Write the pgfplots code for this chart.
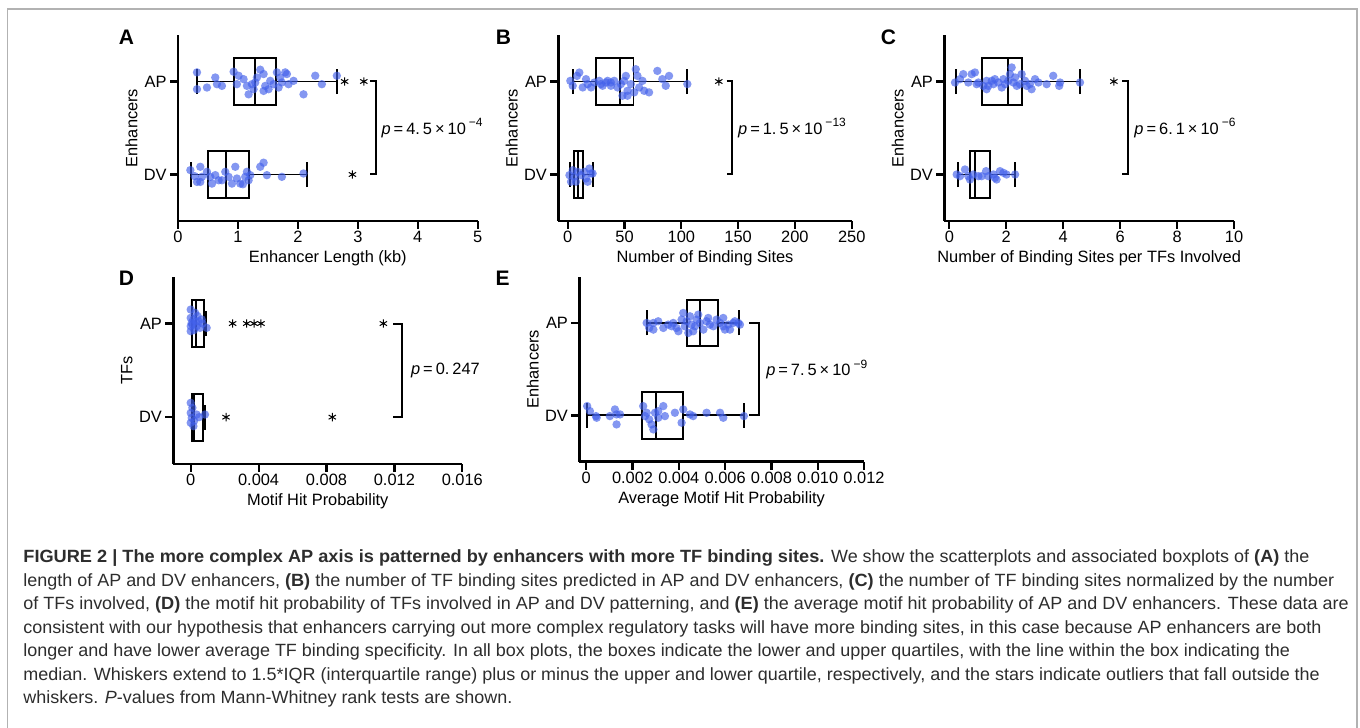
\documentclass[border=0pt]{standalone}
\usepackage{fontspec}
\setmainfont{Liberation Sans}
\newfontfamily\capfont[FakeStretch=1.015]{Liberation Sans}
\newfontfamily\capbf[FakeStretch=1.027]{Liberation Sans}
\usepackage{pgfplots}
\pgfplotsset{compat=1.18}
\usepgfplotslibrary{statistics}
\definecolor{ptblue}{RGB}{66,96,234}
\definecolor{capgray}{RGB}{45,45,45}

\pgfplotsset{
  panel/.style={
    scale only axis, axis lines=left, axis line style={-, line width=1.2pt},
    tick align=outside, major tick length=4pt, tick style={black, line width=1.1pt},
    ymin=-0.5, ymax=1.5, ytick={0,1}, yticklabels={DV,AP},
    clip=false, scaled x ticks=false,
    /pgf/number format/assume math mode=true,
    tick label style={font=\fontsize{8.2}{9.8}\selectfont},
    label style={font=\fontsize{8.2}{9.8}\selectfont},
    xticklabel style={anchor=base, yshift=-7pt},
    yticklabel style={anchor=east, inner sep=0pt, xshift=-1.5pt},
    xlabel style={at={([yshift=-21pt]axis description cs:0.5,0)}, anchor=base},
    ylabel style={at={([xshift=-23.3pt]axis description cs:0,0.5)}, anchor=center},
  },
  pts/.style={only marks, color=ptblue, mark=*, mark size=2.1pt,
    mark options={draw=none, draw opacity=0, fill=ptblue, fill opacity=0.65}},
  bx/.style={black, line width=0.95pt, solid, mark=none},
  stars/.style={only marks, mark=asterisk, mark size=2.1pt,
    mark options={black, line width=0.5pt}},
}
\newcommand{\gap}{\hspace{1.5pt}}
\newcommand{\pval}[2]{{\fontsize{8.2}{9.8}\selectfont{\itshape p}\gap=\gap#1\gap×\gap10\gap\raisebox{3.6pt}{\fontsize{6}{6}\selectfont#2}}}
\newcommand{\cb}[1]{{\capbf\bfseries #1}}

\begin{document}
\begin{tikzpicture}
% frame
\draw[gray!60, line width=0.75pt] (3.65pt,0) -- (3.65pt,359.5pt) -- (678.5pt,359.5pt) -- (678.5pt,0);

% ---------- A ----------
\begin{axis}[panel, at={(89pt,253.5pt)}, anchor=south west, width=149.85pt, height=93pt,
  xmin=0, xmax=5, xtick={0,1,2,3,4,5},
  xlabel={Enhancer Length (kb)}, ylabel={Enhancers}]
\addplot[pts] coordinates {
(0.317,1.098) (0.317,0.917) (0.483,0.935) (0.622,1.043) (0.65,0.971) (0.733,0.953)
(0.928,1.105) (0.983,0.971) (1.011,1.062) (1.094,1.025) (1.15,0.953) (1.178,0.862)
(1.233,0.971) (1.261,0.917) (1.289,0.989) (1.317,1.043) (1.372,1.127) (1.428,1.080)
(1.428,0.899) (1.456,0.953) (1.511,0.917) (1.539,1.007) (1.594,0.971) (1.65,1.098)
(1.678,0.935) (1.706,1.043) (1.733,0.989) (1.789,1.098) (1.817,1.080) (1.844,0.971)
(1.928,1.007) (2.094,0.862) (2.29,1.062) (2.40,0.971) (2.65,1.062)
};
\addplot[pts] coordinates {
(0.206,0.047) (0.278,-0.018) (0.317,-0.08) (0.372,0.083) (0.4,-0.025) (0.483,0.029)
(0.539,-0.025) (0.567,-0.098) (0.622,-0.007) (0.678,-0.062) (0.733,-0.062) (0.789,0.029)
(0.844,-0.025) (0.9,-0.098) (0.956,0.083) (0.983,-0.043) (1.039,-0.098) (1.083,-0.105)
(1.122,-0.025) (1.15,0.029) (1.206,-0.007) (1.372,0.083) (1.428,0.127) (1.483,-0.007)
(1.733,-0.025) (2.094,0.011) (1.178,-0.062) (0.372,-0.08)
};
\addplot[bx, boxplot prepared={draw position=1, lower whisker=0.317, lower quartile=0.928,
  median=1.289, upper quartile=1.633, upper whisker=2.65, box extend=0.5, whisker extend=0.27}] coordinates {};
\addplot[bx, boxplot prepared={draw position=0, lower whisker=0.217, lower quartile=0.5,
  median=0.806, upper quartile=1.178, upper whisker=2.15, box extend=0.5, whisker extend=0.27}] coordinates {};
\addplot[stars] coordinates {(2.78,1) (3.1,1) (2.91,0)};
\draw[line width=1pt] (axis cs:3.2,1) -- (axis cs:3.3,1) -- (axis cs:3.3,0) -- (axis cs:3.2,0);
\node[anchor=west, inner sep=0pt] at (axis cs:3.39,0.5) {\pval{4.\gap5}{−4}};
\end{axis}

% ---------- B ----------
\begin{axis}[panel, at={(279.15pt,253.5pt)}, anchor=south west, width=146.7pt, height=93pt,
  xmin=-8.3, xmax=250, xtick={0,50,100,150,200,250},
  xlabel={Number of Binding Sites}, ylabel={Enhancers}]
\addplot[pts] coordinates {
(2.3,1.007) (4.4,0.954) (8.2,1.06) (10.2,1.096) (13.2,0.936) (16.1,1.025) (17.5,0.972)
(20.5,0.936) (23.4,0.989) (27.8,1.007) (29.2,0.972) (30.7,0.954) (33.6,0.989) (35.1,1.007)
(38,0.954) (38,0.989) (40.9,1.007) (43.9,0.936) (46.8,0.972) (48.2,0.847) (49.7,1.007)
(51.2,1.06) (52.6,0.9) (52.6,0.847) (55.6,0.972) (58.5,0.883) (59.9,1.132) (61.4,1.06)
(62.9,0.936) (65.8,1.007) (67.3,0.9) (71.6,0.883) (78.9,1.114) (83.3,1.025) (86.3,0.954)
(89.2,1.06) (105.3,0.972)
};
\addplot[pts] coordinates {
(1.5,-0.007) (2.9,-0.078) (4.4,0.046) (5.8,-0.025) (7.3,-0.078) (8.8,0.028) (11.7,-0.007)
(14.6,0.028) (16.1,-0.043) (17.5,-0.078) (19,0.064) (20.5,0.011) (21.9,0.011)
};
\addplot[bx, boxplot prepared={draw position=1, lower whisker=4.4, lower quartile=25.1,
  median=46.2, upper quartile=57.9, upper whisker=104.7, box extend=0.5, whisker extend=0.27}] coordinates {};
\addplot[bx, boxplot prepared={draw position=0, lower whisker=2, lower quartile=5.8,
  median=9.4, upper quartile=13.5, upper whisker=21.9, box extend=0.5, whisker extend=0.27}] coordinates {};
\addplot[stars] coordinates {(133,1)};
\draw[line width=1pt] (axis cs:139.8,1) -- (axis cs:144.7,1) -- (axis cs:144.7,0) -- (axis cs:139.8,0);
\node[anchor=west, inner sep=0pt] at (axis cs:149.7,0.5) {\pval{1.\gap5}{−13}};
\end{axis}

% ---------- C ----------
\begin{axis}[panel, at={(472.15pt,253.5pt)}, anchor=south west, width=144.85pt, height=93pt,
  xmin=-0.176, xmax=10, xtick={0,2,4,6,8,10},
  xlabel={Number of Binding Sites per TFs Involved}, ylabel={Enhancers}]
\addplot[pts] coordinates {
(0.2,0.989) (0.375,1.025) (0.49,1.079) (0.667,0.989) (0.785,1.079) (0.9,1.097) (0.96,0.971)
(1.02,0.989) (1.19,0.953) (1.31,0.917) (1.31,1.007) (1.37,0.953) (1.49,1.007) (1.55,0.971)
(1.6,1.025) (1.72,0.989) (1.84,0.935) (1.9,1.025) (1.96,0.971) (2.07,1.007) (2.13,1.079)
(2.19,1.151) (2.25,0.989) (2.31,1.043) (2.37,0.953) (2.48,0.971) (2.54,1.079) (2.66,1.007)
(2.72,0.953) (2.83,0.971) (2.89,0.917) (3.01,1.025) (3.13,0.989) (3.42,0.971) (3.65,1.061)
(3.86,0.953) (3.89,0.989) (4.59,0.989)
};
\addplot[pts] coordinates {
(0.26,0) (0.375,-0.018) (0.55,0.054) (0.667,-0.018) (0.726,-0.054) (0.843,0) (1.02,-0.018)
(1.136,-0.018) (1.29,0.036) (1.37,-0.018) (1.55,0) (1.6,-0.036) (1.66,-0.054) (1.78,0.036)
(1.9,0.018) (2.01,0) (2.31,0)
};
\addplot[bx, boxplot prepared={draw position=1, lower whisker=0.23, lower quartile=1.136,
  median=2.05, upper quartile=2.55, upper whisker=4.59, box extend=0.5, whisker extend=0.27}] coordinates {};
\addplot[bx, boxplot prepared={draw position=0, lower whisker=0.32, lower quartile=0.726,
  median=0.9, upper quartile=1.43, upper whisker=2.32, box extend=0.5, whisker extend=0.27}] coordinates {};
\addplot[stars] coordinates {(5.78,1)};
\draw[line width=1pt] (axis cs:6.08,1) -- (axis cs:6.29,1) -- (axis cs:6.29,0) -- (axis cs:6.08,0);
\node[anchor=west, inner sep=0pt] at (axis cs:6.49,0.5) {\pval{6.\gap1}{−6}};
\end{axis}

% ---------- D ----------
\begin{axis}[panel, at={(86.65pt,132pt)}, anchor=south west, width=144.5pt, height=93.65pt,
  xmin=-0.001025, xmax=0.016, xtick={0,0.004,0.008,0.012,0.016},
  xticklabels={0,0.004,0.008,0.012,0.016},
  xlabel={Motif Hit Probability}, ylabel={TFs}]
\addplot[pts] coordinates {
(0,1.149) (0,1.06) (0,0.972) (0,0.918) (0.00006,1.007) (0.00016,1.043) (0.00026,1.114)
(0.00035,0.972) (0.00045,1.025) (0.00055,0.954) (0.00065,1.043) (0.00094,0.954)
(0.0001,0.99) (0.0002,0.93) (0.0004,1.08) (0.0007,1.0) (0.0003,1.02)
};
\addplot[pts] coordinates {
(0,0.153) (0,0.046) (0,-0.06) (0.00006,-0.007) (0.00016,-0.096) (0.00035,0.028)
(0.00084,0.028) (0.0001,0.1) (0.0002,-0.04) (0.0005,0)
};
\addplot[bx, boxplot prepared={draw position=1, lower whisker=0.00005, lower quartile=0.0001,
  median=0.0003, upper quartile=0.00079, upper whisker=0.0009, box extend=0.5, whisker extend=0.27}] coordinates {};
\addplot[bx, boxplot prepared={draw position=0, lower whisker=0.00005, lower quartile=0.0001,
  median=0.0002, upper quartile=0.0007, upper whisker=0.00082, box extend=0.5, whisker extend=0.27}] coordinates {};
\addplot[stars] coordinates {(0.00247,1) (0.0033,1) (0.00373,1) (0.00414,1) (0.01135,1)
  (0.00208,0) (0.00834,0)};
\draw[line width=1pt] (axis cs:0.01194,1) -- (axis cs:0.01247,1) -- (axis cs:0.01247,0) -- (axis cs:0.01194,0);
\node[anchor=west, inner sep=0pt] at (axis cs:0.01296,0.5) {{\fontsize{8.2}{9.8}\selectfont{\itshape p}\gap=\gap0.\gap247}};
\end{axis}

% ---------- E ----------
\begin{axis}[panel, at={(289.65pt,133.15pt)}, anchor=south west, width=142.35pt, height=92.5pt,
  xmin=-0.0003, xmax=0.012, xtick={0,0.002,0.004,0.006,0.008,0.010,0.012},
  xticklabels={0,0.002,0.004,0.006,0.008,0.010,0.012},
  xlabel={Average Motif Hit Probability}, ylabel={Enhancers}]
\addplot[pts] coordinates {
(0.00261,1) (0.00272,0.946) (0.0029,1) (0.0029,0.928) (0.00311,1.018) (0.00333,0.946)
(0.00354,0.982) (0.00369,0.964) (0.00376,1) (0.0039,0.946) (0.00398,0.91) (0.00412,1.036)
(0.00419,1.108) (0.00426,0.964) (0.00434,1.018) (0.00441,0.892) (0.00448,1.072) (0.00455,0.982)
(0.00462,0.91) (0.0047,0.964) (0.00477,1.036) (0.00484,1.09) (0.00491,1) (0.00506,0.928)
(0.0052,1.018) (0.00527,1.054) (0.00534,0.982) (0.00549,0.964) (0.00563,1.036) (0.00578,1)
(0.00592,1.054) (0.00592,0.964) (0.00599,0.928) (0.00614,0.982) (0.00621,0.928) (0.00635,1)
(0.00642,1.018) (0.00657,1) (0.00664,0.982)
};
\addplot[pts] coordinates {
(0.00004,0.101) (0.00016,0.047) (0.00042,-0.007) (0.00045,-0.025) (0.00102,-0.007)
(0.00124,0.065) (0.00131,0.011) (0.00131,-0.097) (0.00146,0.011) (0.00246,0.101)
(0.00254,-0.007) (0.00261,0.029) (0.00272,-0.043) (0.00282,-0.097) (0.0029,-0.151)
(0.00297,0.029) (0.00311,-0.025) (0.00311,0.047) (0.00333,0.101) (0.0034,-0.007)
(0.00383,0.029) (0.00412,-0.079) (0.00419,0.065) (0.00448,0.011) (0.00462,-0.007)
(0.0052,0.029) (0.00578,0.029) (0.00592,-0.025) (0.00681,-0.007)
};
\addplot[bx, boxplot prepared={draw position=1, lower whisker=0.00264, lower quartile=0.00434,
  median=0.00491, upper quartile=0.0057, upper whisker=0.00661, box extend=0.5, whisker extend=0.27}] coordinates {};
\addplot[bx, boxplot prepared={draw position=0, lower whisker=0.00004, lower quartile=0.00239,
  median=0.003, upper quartile=0.00419, upper whisker=0.00681, box extend=0.5, whisker extend=0.27}] coordinates {};
\draw[line width=1pt] (axis cs:0.00704,1) -- (axis cs:0.00748,1) -- (axis cs:0.00748,0) -- (axis cs:0.00704,0);
\node[anchor=west, inner sep=0pt] at (axis cs:0.00776,0.5) {\pval{7.\gap5}{−9}};
\end{axis}

% panel letters
\begin{scope}[every node/.style={font=\fontsize{10.5}{12}\bfseries, inner sep=0pt}]
\node at (63.25pt,345.25pt) {A};
\node at (251.75pt,345.25pt) {B};
\node at (444.25pt,345.25pt) {C};
\node at (63.25pt,224.75pt) {D};
\node at (251.25pt,224.75pt) {E};
\end{scope}

% caption
\begin{scope}[every node/.style={anchor=base west, inner sep=0pt, text=capgray,
    font=\capfont\fontsize{8.85}{10}\selectfont}]
\node at (11.5pt,82.5pt) {\cb{FIGURE 2 | The more complex AP axis is patterned by enhancers with more TF binding sites.} We show the scatterplots and associated boxplots of \cb{(A)} the};
\node at (11.5pt,70.75pt) {length of AP and DV enhancers, \cb{(B)} the number of TF binding sites predicted in AP and DV enhancers, \cb{(C)} the number of TF binding sites normalized by the number};
\node at (11.5pt,59pt) {of TFs involved, \cb{(D)} the motif hit probability of TFs involved in AP and DV patterning, and \cb{(E)} the average motif hit probability of AP and DV enhancers. These data are};
\node at (11.5pt,47.25pt) {consistent with our hypothesis that enhancers carrying out more complex regulatory tasks will have more binding sites, in this case because AP enhancers are both};
\node at (11.5pt,35.5pt) {longer and have lower average TF binding specificity. In all box plots, the boxes indicate the lower and upper quartiles, with the line within the box indicating the};
\node at (11.5pt,23.75pt) {median. Whiskers extend to 1.5*IQR (interquartile range) plus or minus the upper and lower quartile, respectively, and the stars indicate outliers that fall outside the};
\node at (11.5pt,12pt) {whiskers. \textit{P}-values from Mann-Whitney rank tests are shown.};
\end{scope}

\pgfresetboundingbox
\path[use as bounding box] (0,0) rectangle (680pt,364pt);
\end{tikzpicture}
\end{document}
